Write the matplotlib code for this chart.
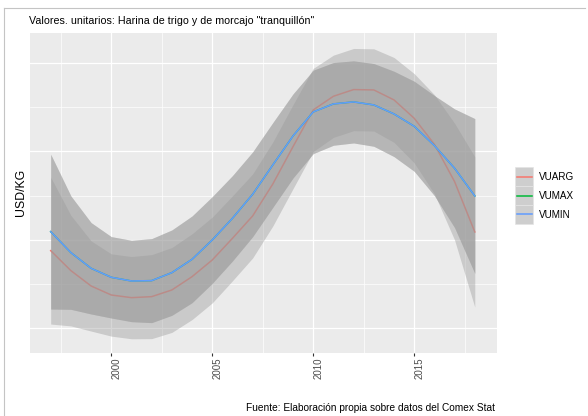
# Valores unitarios: harina de trigo y morcajo - loess smooths with ribbons
import matplotlib
matplotlib.use('Agg')
import matplotlib.pyplot as plt
from matplotlib.lines import Line2D
from matplotlib.patches import Rectangle

plt.rcParams['font.family'] = ['Liberation Sans', 'DejaVu Sans']

# data (y axis has no labels, so units are relative)
years = list(range(1997, 2019))
vuarg_fit = [1.756, 1.304, 0.957, 0.753, 0.693, 0.716, 0.867, 1.168, 1.545, 2.035, 2.541,
             3.265, 4.109, 4.939, 5.248, 5.399, 5.391, 5.165, 4.750, 4.162, 3.317, 2.179]
vuarg_se = [1.66, 1.25, 1.02, 0.93, 0.93, 0.95, 0.96, 0.97, 0.97, 0.96, 0.95,
            0.95, 0.95, 0.94, 0.93, 0.93, 0.93, 0.96, 1.01, 1.12, 1.32, 1.70]
vumin_fit = [2.186, 1.711, 1.357, 1.153, 1.070, 1.078, 1.259, 1.560, 1.998, 2.488, 3.031,
             3.695, 4.351, 4.894, 5.075, 5.120, 5.052, 4.848, 4.569, 4.132, 3.619, 2.993]
vumin_se = [1.750, 1.282, 1.033, 0.920, 0.920, 0.950, 0.965, 0.980, 0.980, 0.965, 0.958,
            0.958, 0.950, 0.943, 0.935, 0.928, 0.935, 0.965, 1.018, 1.131, 1.342, 1.750]
# VUMAX sits exactly under VUMIN in the picture (its line is hidden)
vumax_fit = list(vumin_fit)
vumax_se = list(vumin_se)

series = ['VUARG', 'VUMAX', 'VUMIN']
colors = ['#F8766D', '#00BA38', '#619CFF']
fits = [vuarg_fit, vumax_fit, vumin_fit]
ses = [vuarg_se, vumax_se, vumin_se]

W, H = 588, 416


def fx(x):
    return x / W


def fy(y):
    return 1 - y / H


fig = plt.figure(figsize=(W / 100, H / 100), dpi=100)
ax = fig.add_axes([fx(29.5), fy(352.7), (497 - 29.5) / W, (352.7 - 32.5) / H])
ax.set_facecolor('#EBEBEB')
for s in ax.spines.values():
    s.set_visible(False)

for fit, se, col in zip(fits, ses, colors):
    lo = [f - e for f, e in zip(fit, se)]
    hi = [f + e for f, e in zip(fit, se)]
    ax.fill_between(years, lo, hi, color='#999999', alpha=0.4, lw=0, zorder=2)
    ax.plot(years, fit, color=col, lw=1.1, zorder=2)

ax.set_xlim(1995.95, 2019.1)
ax.set_ylim(-0.552, 6.69)
ax.set_xticks([2000, 2005, 2010, 2015])
ax.set_xticks([1997.5, 2002.5, 2007.5, 2012.5, 2017.5], minor=True)
ax.set_yticks([0, 2, 4, 6])
ax.set_yticks([1, 3, 5], minor=True)
ax.set_axisbelow(True)
ax.grid(which='major', color='white', lw=0.9)
ax.grid(which='minor', color='white', lw=0.5)
ax.tick_params(axis='x', which='major', length=2.2, width=0.8, color='#333333',
               pad=1.5, labelsize=7, labelcolor='#4D4D4D')
ax.tick_params(axis='x', which='minor', length=0)
ax.tick_params(axis='y', which='both', left=False, labelleft=False)
plt.setp(ax.get_xticklabels(), rotation=90, ha='left')

# texts
fig.text(fx(29), fy(21.5), 'Valores. unitarios: Harina de trigo y de morcajo "tranquillón"',
         fontsize=7.7, ha='left', va='center')
fig.text(fx(20.7), fy(192.6), 'USD/KG', fontsize=8.8, rotation=90, ha='center', va='center')
fig.text(fx(495.5), fy(408), 'Fuente: Elaboración propia sobre datos del Comex Stat',
         fontsize=7.3, ha='right', va='center')

# legend drawn by hand (ggplot style keys)
key_top = [167, 186, 205]
key_h = [19, 19, 18.5]
for name, col, kt, kh in zip(series, colors, key_top, key_h):
    fig.add_artist(Rectangle((fx(515), fy(kt + kh)), 18.3 / W, kh / H,
                             transform=fig.transFigure, facecolor='#CECECE',
                             edgecolor='#E4E4E4', lw=0.5))
    yc = kt + kh / 2
    fig.add_artist(Line2D([fx(516.5), fx(531.5)], [fy(yc), fy(yc)],
                          transform=fig.transFigure, color=col, lw=1.1))
    fig.text(fx(539), fy(yc + 0.8), name, fontsize=7.1, ha='left', va='center')

# outer frame of the screenshot
fig.add_artist(Line2D([fx(4), fx(4)], [fy(8), fy(416)], transform=fig.transFigure,
                      color='#C4C4C4', lw=0.8))
fig.add_artist(Line2D([fx(4), fx(585)], [fy(8), fy(8)], transform=fig.transFigure,
                      color='#C4C4C4', lw=0.8))

fig.savefig('out.png', dpi=100, facecolor='white')
